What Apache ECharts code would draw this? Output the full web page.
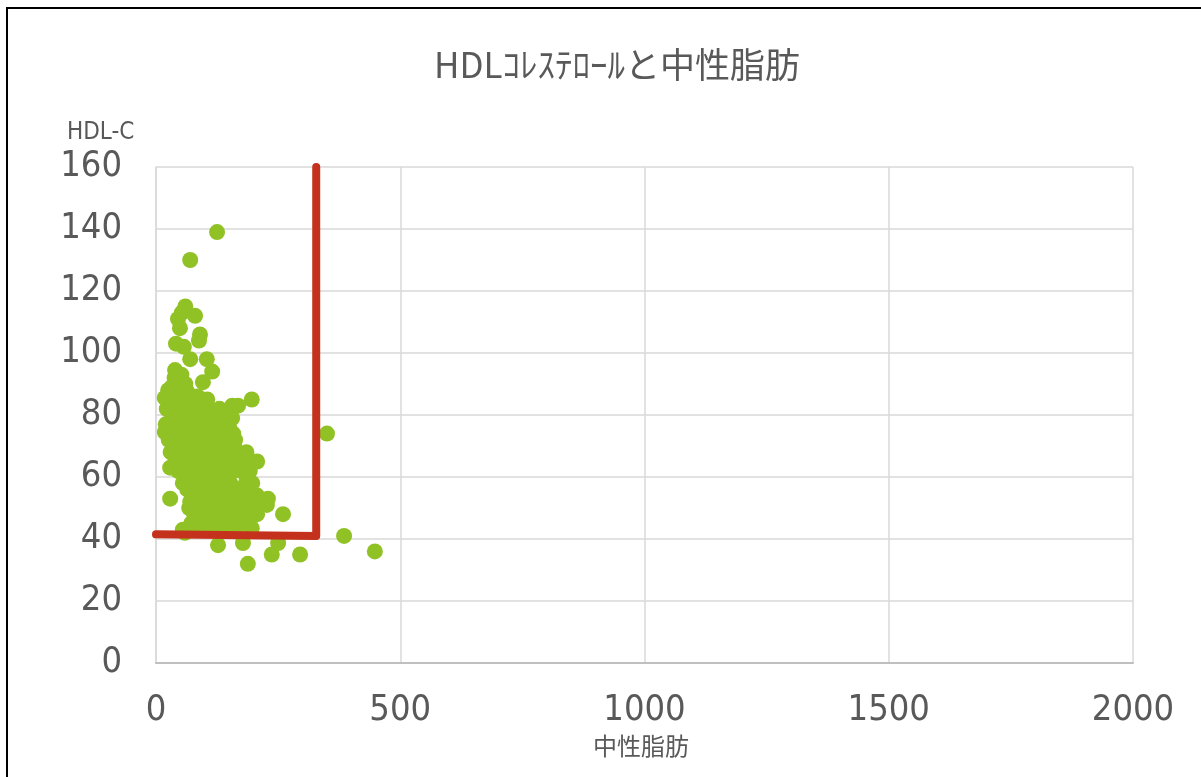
<!DOCTYPE html>
<html>
<head>
<meta charset="utf-8">
<script src="https://cdn.jsdelivr.net/npm/echarts@6/dist/echarts.min.js"></script>
<style>
html,body{margin:0;padding:0;background:#fff;}
#c{width:1201px;height:777px;}
</style>
</head>
<body>
<div id="c"></div>
<script>
const titleText = 'HDLｺﾚｽﾃﾛｰﾙと中性脂肪';
const xName = '中性脂肪';
const yName = 'HDL-C';
const xTicks = [0, 500, 1000, 1500, 2000];
const yTicks = [0, 20, 40, 60, 80, 100, 120, 140, 160];

// 中性脂肪 (x), HDL-C (y)
const tgValues = [
125,70,60,53,45,80,49,90,88,41,57,70,104,115,39,45,52,60,96,
18,25,32,40,50,58,66,75,85,95,105,35,196,168,156,
22,30,40,48,56,65,74,83,92,100,110,120,130,145,156,
20,28,36,45,54,62,72,80,90,98,108,118,128,138,150,
18,26,34,43,52,60,70,79,88,97,106,116,126,136,148,162,158,
30,40,48,57,66,75,84,93,102,112,122,132,142,150,
29,45,55,64,73,82,91,100,110,120,130,140,150,160,176,192,207,196,185,
55,64,74,83,92,102,112,122,132,142,152,165,180,197,190,
29,76,70,86,95,105,115,125,135,145,155,165,178,207,229,227,
94,105,115,125,135,145,155,165,172,185,207,260,
59,55,196,127,178,250,237,295,188,350,385,448,
38,47,62,68,78,86,98,108,35,44,52,64,72,82,92,104,60,70,80,90,100,110,120,85,95,115,125,
68,78,88,98,108,118,128,138,148,158,168,178,188,200,
72,82,92,102,112,122,132,142,152,162,172,182,
170,180,175,185,140,135,170,160,145,150
];
const hdlValues = [
139,130,115,113,111,112,108,106,104,103,102,98,98,94,94.5,91,93,90,90.6,
85.5,88,89,87,88,86,87,85,86,85,85,84,85,83,83,
82,81,83,80,82,80,83,81,82,80,81,80,82,80,79,
77,76,78,76,78,75,77,76,78,75,77,76,78,75,76,
74.5,72,74,71,73,70,72,74,71,73,70,72,74,71,73,72,74,
68,66,69,67,65,68,66,69,67,65,68,66,69,65,
63,62,61,64,60,63,61,64,62,60,63,61,64,62,62,62,65,65,60,
58,56,59,57,55,58,56,59,57,55,58,56,57,58,55,
53,54,52,51,53,50,52,54,51,53,50,52,51,54,53,51,
47,49,46,48,47,49,46,48,45.5,47,48,48,
42,43,43.5,38,38.7,38.7,35,35,32,74,41,36,
92,90,88,84,79,73,67,58,80,77,70,75,66,60,56,52,72,63,58,55,50,57,54,69,61,57,50,
50,48,51,49,52,50,48,51,49,52,50,49,51,50,
45,44,45,43,44,43,44,45,44,43,46,45,
53,55,66,68,74,78,67,70,70,80
];
const cutLineX = [0, 328, 328];
const cutLineY = [41.5, 41, 160];

const points = tgValues.map((v, i) => [v, hdlValues[i]]);
const cutLine = cutLineX.map((v, i) => [v, cutLineY[i]]);

const numFont = '"Liberation Sans Narrow","DejaVu Sans Condensed","Noto Sans",sans-serif';
const cjkFont = '"Noto Sans CJK JP","Noto Sans",sans-serif';

const chart = echarts.init(document.getElementById('c'), null, {renderer:'canvas'});
chart.setOption({
  animation: false,
  backgroundColor: '#ffffff',
  title: {
    text: titleText,
    left: 612, top: 42, textAlign: 'center',
    textStyle: {fontFamily: cjkFont, fontSize: 35, fontWeight: 'normal', color: '#595959'}
  },
  graphic: [
    {type:'rect', silent:true, shape:{x:7, y:8, width:1400, height:1000},
     style:{fill:'none', stroke:'#000', lineWidth:2}, z:0},
    {type:'text', left:67, top:121, silent:true,
     style:{text:yName, fontFamily:numFont, fontSize:24, fill:'#595959'}},
    {type:'text', left:593, top:734, silent:true,
     style:{text:xName, fontFamily:cjkFont, fontSize:24, fill:'#595959'}}
  ],
  grid: {left:156, right:68, top:167, bottom:114, containLabel:false},
  xAxis: {
    type:'value', min:0, max:2000, interval:500,
    axisLine:{show:true, lineStyle:{color:'#bfbfbf', width:2}},
    axisTick:{show:false},
    splitLine:{show:true, lineStyle:{color:'#d9d9d9', width:1.5}},
    axisLabel:{fontFamily:numFont, fontSize:36, color:'#595959', margin:30,
      formatter: v => xTicks.includes(v) ? String(v) : ''}
  },
  yAxis: {
    type:'value', min:0, max:160, interval:20,
    axisLine:{show:true, lineStyle:{color:'#d9d9d9', width:1.5}},
    axisTick:{show:false},
    splitLine:{show:true, lineStyle:{color:'#d9d9d9', width:1.5}},
    axisLabel:{fontFamily:numFont, fontSize:36, color:'#595959', margin:34,
      formatter: v => yTicks.includes(v) ? String(v) : ''}
  },
  series: [
    {type:'scatter', data:points, symbolSize:16, itemStyle:{color:'#90c226', opacity:1}, z:2},
    {type:'line', data:cutLine, symbol:'none', clip:false,
     lineStyle:{color:'#c4311c', width:8, cap:'round', join:'round'}, z:5}
  ]
});
</script>
</body>
</html>
